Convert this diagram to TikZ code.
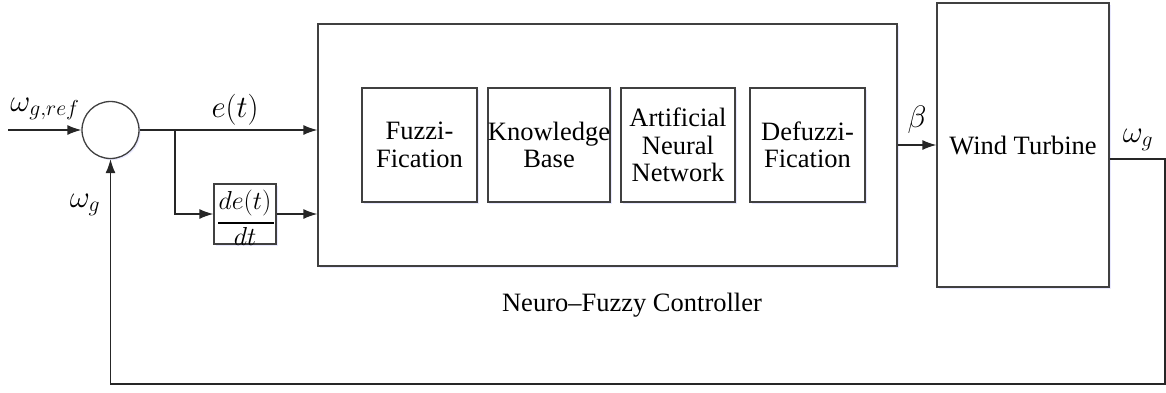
\documentclass[tikz,border=0pt]{standalone}
\usepackage{fix-cm}
\usepackage{fontspec}
\setmainfont{Liberation Serif}
\usetikzlibrary{arrows.meta,shadows}
\begin{document}
\begin{tikzpicture}[x=1pt,y=-1pt,
  line width=1.3pt,
  blk/.style={draw=black!75, line width=1.3pt, rectangle, inner sep=0pt, fill=white,
    drop shadow={shadow xshift=1.5pt, shadow yshift=-1.5pt, fill=blue!25, opacity=0.35}},
  arr/.style={-{Latex[length=14pt,width=10pt]}, line width=1.3pt, draw=black!85},
  txt/.style={font=\fontsize{26.5}{27.5}\selectfont, align=center, inner sep=0pt},
  mlab/.style={font=\fontsize{31}{33}\selectfont, inner sep=0pt}]
\useasboundingbox (0,0) rectangle (1166,392);

% blocks
\node[draw=black!75, circle, minimum size=57pt, inner sep=0pt, line width=1.3pt, fill=white,
  drop shadow={shadow xshift=1.5pt, shadow yshift=-1.5pt, fill=blue!25, opacity=0.35}] (sum) at (110.5,130) {};
\node[blk, minimum width=579pt, minimum height=242pt] (nfc) at (607.5,145) {};
\node[blk, minimum width=62pt, minimum height=60pt] (der) at (245,214) {};
\node[blk, minimum width=115pt, minimum height=114pt, txt] (b1) at (419.5,145) {Fuzzi-\\Fication};
\node[blk, minimum width=116pt, minimum height=114pt, txt] (b2) at (549,145) {Knowledge\\Base};
\node[blk, minimum width=114pt, minimum height=114pt, txt] (b3) at (678,145) {Artificial\\Neural\\Network};
\node[blk, minimum width=115pt, minimum height=114pt, txt] (b4) at (807.5,145) {Defuzzi-\\Fication};
\node[blk, minimum width=172pt, minimum height=284pt, txt] (wt) at (1023,145) {Wind Turbine};

% derivative content
\node[mlab, font=\fontsize{26}{28}\selectfont] (dnum) at (245,203) {$de(t)$};
\coordinate (fl) at (218,223);
\coordinate (fr) at (274,223);
\draw[line width=1.8pt] (fl) -- (fr);
\node[mlab, font=\fontsize{26}{28}\selectfont, anchor=base] (dden) at (245,245) {$dt$};

% coordinates
\coordinate (in) at (8,130);
\coordinate (br) at (175,130);
\coordinate (c1) at (1165,159);
\coordinate (c2) at (1165,384);
\coordinate (c3) at (110.5,384);

% connectors
\draw[arr] (in) -- (sum.west);
\draw[arr] (sum.east) -- (sum.east -| nfc.west);
\draw[arr] (br) |- (der.west);
\draw[arr] (der.east) -- (der.east -| nfc.west);
\draw[arr] (nfc.east) -- (wt.west);
\draw[arr] (wt.east |- c1) -- (c1) -- (c2) -- (c3) -- (sum.south);

% labels
\node[mlab] (lref) at (45,109) {$\omega_{g,ref}$};
\node[mlab] (le) at (235,110) {$e(t)$};
\node[mlab] (lwg) at (85,205) {$\omega_g$};
\node[mlab] (lb) at (917,120) {$\beta$};
\node[mlab] (lwo) at (1138,140) {$\omega_g$};
\node[txt] (lnfc) at (632,305) {Neuro–Fuzzy Controller};
\end{tikzpicture}
\end{document}
